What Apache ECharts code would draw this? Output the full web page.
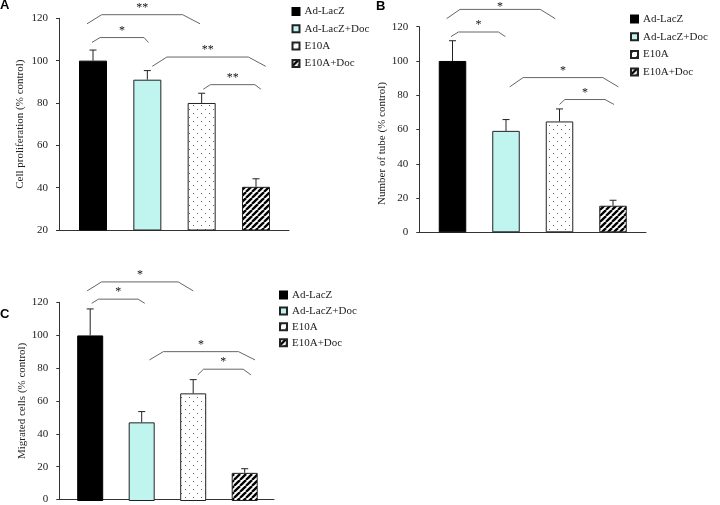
<!DOCTYPE html>
<html>
<head>
<meta charset="utf-8">
<script src="https://cdn.jsdelivr.net/npm/echarts@6/dist/echarts.min.js"></script>
<style>html,body{margin:0;padding:0;background:#fff}#c{width:720px;height:505px}</style>
</head>
<body>
<div id="c"></div>
<script>
// ---------- data ----------
const categories = ['Ad-LacZ', 'Ad-LacZ+Doc', 'E10A', 'E10A+Doc'];
const panelLabels = ['A', 'B', 'C'];
const axisTitles = ['Cell proliferation (% control)', 'Number of tube (% control)', 'Migrated cells (% control)'];

const valuesA = [100, 91, 80, 40.4];
const errorsA = [5, 4.3, 4.6, 3.8];
const valuesB = [100, 59.2, 64.7, 15.5];
const errorsB = [11.8, 6.6, 7.3, 3.2];
const valuesC = [100, 47.5, 65, 17];
const errorsC = [16, 6.5, 8.3, 2.5];

const yRangeA = [20, 120, 20];
const yRangeB = [0, 120, 20];
const yRangeC = [0, 120, 20];

// significance brackets: [xStart, xRise, xFall, xEnd, yEnd, yTop] in category-index / data units
const bracketsA = [[-0.11, 0.16, 1.65, 1.97, 117.4, 121.7], [-0.02, 0.13, 0.94, 1.02, 108.6, 110.9], [1.09, 1.36, 2.86, 3.18, 97.3, 101.7], [2.03, 2.16, 2.98, 3.09, 86.5, 88.65]];
const starsA = ['**', '*', '**', '**'];
const bracketsB = [[-0.11, 0.14, 1.64, 1.92, 124.7, 130.1], [-0.03, 0.11, 0.86, 0.99, 114.2, 116.9], [1.07, 1.32, 2.81, 3.10, 84.9, 90.3], [2.0, 2.1, 2.85, 3.02, 74.6, 77.5]];
const starsB = ['*', '*', '*', '*'];
const bracketsC = [[-0.06, 0.22, 1.71, 2.0, 126.9, 132.3], [0.03, 0.16, 0.93, 1.06, 119.4, 121.9], [1.15, 1.42, 2.88, 3.2, 85.2, 90.2], [2.09, 2.2, 2.97, 3.12, 76.2, 79.6]];
const starsC = ['*', '*', '*', '*'];

// ---------- patterns ----------
function dotPattern() {
  const c = document.createElement('canvas'); c.width = 8; c.height = 8;
  const g = c.getContext('2d'); g.fillStyle = '#fff'; g.fillRect(0, 0, 8, 8);
  g.fillStyle = '#666'; g.fillRect(1, 1, 1, 1); g.fillRect(5, 5, 1, 1);
  return c;
}
function hatchPattern() {
  const c = document.createElement('canvas'); c.width = 6; c.height = 6;
  const g = c.getContext('2d'); g.fillStyle = '#fff'; g.fillRect(0, 0, 6, 6);
  g.strokeStyle = '#000'; g.lineWidth = 2.3;
  [-6, 0, 6].forEach(o => { g.beginPath(); g.moveTo(o, 6); g.lineTo(o + 6, 0); g.stroke(); });
  return c;
}
const fills = ['#000000', '#bff4ef', { image: dotPattern(), repeat: 'repeat' }, { image: hatchPattern(), repeat: 'repeat' }];
const borders = ['#000', '#222', '#222', '#222'];

// ---------- layout ----------
const SERIF = 'Liberation Serif';
const panels = [
  { values: valuesA, errors: errorsA, yr: yRangeA, brackets: bracketsA, stars: starsA,
    frame: { left: 59, top: 18.3, width: 230, height: 211.7 }, main: { left: 65.85, width: 217.3 }, barW: 28,
    nameGap: 33, namePad: [0, 0, 0, 0], legend: { left: 291.5, top: 5.5, gap: 5.3 }, label: { left: 0, top: -1 } },
  { values: valuesB, errors: errorsB, yr: yRangeB, brackets: bracketsB, stars: starsB,
    frame: { left: 419.3, top: 26.7, width: 226.7, height: 205.6 }, main: { left: 425.75, width: 214 }, barW: 27.5,
    nameGap: 29, namePad: [0, 28, 0, 0], legend: { left: 630, top: 13, gap: 5.7 }, label: { left: 376, top: 0 } },
  { values: valuesC, errors: errorsC, yr: yRangeC, brackets: bracketsC, stars: starsC,
    frame: { left: 59.3, top: 302.3, width: 214.7, height: 198.7 }, main: { left: 64.45, width: 206 }, barW: 26,
    nameGap: 29, namePad: [0, 0, 0, 0], legend: { left: 279, top: 289, gap: 3.9 }, label: { left: 0, top: 308 } }
];

const option = { animation: false, backgroundColor: '#fff', grid: [], xAxis: [], yAxis: [], series: [], legend: [], title: [] };

panels.forEach((p, k) => {
  const gF = 2 * k, gM = 2 * k + 1;
  option.grid.push({ left: p.frame.left, top: p.frame.top, width: p.frame.width, height: p.frame.height });
  option.grid.push({ left: p.main.left, top: p.frame.top, width: p.main.width, height: p.frame.height });
  const xF = 3 * k, xC = 3 * k + 1, xV = 3 * k + 2, yF = 2 * k, yM = 2 * k + 1;
  option.xAxis.push({ type: 'category', gridIndex: gF, data: categories, axisLabel: { show: false }, axisTick: { show: false },
    axisLine: { lineStyle: { color: '#333', width: 1 } } });
  option.xAxis.push({ type: 'category', gridIndex: gM, data: categories, show: false });
  option.xAxis.push({ type: 'value', gridIndex: gM, min: -0.5, max: 3.5, show: false });
  option.yAxis.push({ type: 'value', gridIndex: gF, min: p.yr[0], max: p.yr[1], interval: p.yr[2],
    axisLine: { show: true, lineStyle: { color: '#333', width: 1 } },
    axisTick: { show: true, length: 3, lineStyle: { color: '#333' } },
    splitLine: { show: false },
    axisLabel: { margin: 11, fontFamily: SERIF, fontSize: 11, color: '#222' },
    name: axisTitles[k], nameLocation: 'middle', nameGap: p.nameGap,
    nameTextStyle: { fontFamily: SERIF, fontSize: 11, color: '#222', padding: p.namePad } });
  option.yAxis.push({ type: 'value', gridIndex: gM, min: p.yr[0], max: p.yr[1], interval: p.yr[2], show: false });

  categories.forEach((name, g) => {
    option.series.push({ type: 'bar', name: name, xAxisIndex: xC, yAxisIndex: yM, barWidth: p.barW, barGap: '-100%',
      data: p.values.map((v, i) => (i === g ? v : '-')),
      itemStyle: { color: fills[g], borderColor: borders[g], borderWidth: 1 } });
  });

  option.series.push({ type: 'custom', xAxisIndex: xC, yAxisIndex: yM, z: 5,
    data: p.values.map((v, i) => [i, v, v + p.errors[i]]),
    encode: { x: 0, y: [1, 2] },
    renderItem: (params, api) => {
      const a = api.coord([api.value(0), api.value(1)]);
      const b = api.coord([api.value(0), api.value(2)]);
      const st = { stroke: '#222', lineWidth: 1 };
      return { type: 'group', children: [
        { type: 'line', shape: { x1: a[0], y1: a[1], x2: b[0], y2: b[1] }, style: st },
        { type: 'line', shape: { x1: b[0] - 3.5, y1: b[1], x2: b[0] + 3.5, y2: b[1] }, style: st }
      ] };
    } });

  option.series.push({ type: 'custom', xAxisIndex: xV, yAxisIndex: yM, z: 6, clip: false,
    data: p.brackets,
    encode: { x: [0, 1, 2, 3], y: [4, 5] },
    renderItem: (params, api) => {
      const y0 = api.value(4), y1 = api.value(5);
      const pts = [[api.value(0), y0], [api.value(1), y1], [api.value(2), y1], [api.value(3), y0]].map(q => api.coord(q));
      const mx = (pts[1][0] + pts[2][0]) / 2;
      const ty = Math.max(pts[1][1] - 1, 13);
      return { type: 'group', children: [
        { type: 'polyline', shape: { points: pts }, style: { stroke: '#666', lineWidth: 1, fill: null } },
        { type: 'text', x: mx, y: ty, style: { text: p.stars[params.dataIndex], fontFamily: SERIF, fontSize: 12,
          fill: '#111', align: 'center', verticalAlign: 'bottom' } }
      ] };
    } });

  option.legend.push({ data: categories, orient: 'vertical', left: p.legend.left, top: p.legend.top, itemGap: p.legend.gap,
    itemWidth: 7, itemHeight: 7, icon: 'rect', selectedMode: false, padding: 0,
    textStyle: { fontFamily: SERIF, fontSize: 11, color: '#222', lineHeight: 12 } });

  option.title.push({ text: panelLabels[k], left: p.label.left, top: p.label.top, padding: 0,
    textStyle: { fontFamily: 'Liberation Sans', fontWeight: 'bold', fontSize: 13, color: '#000' } });
});

const chart = echarts.init(document.getElementById('c'), null, { renderer: 'canvas' });
chart.setOption(option);
</script>
</body>
</html>
